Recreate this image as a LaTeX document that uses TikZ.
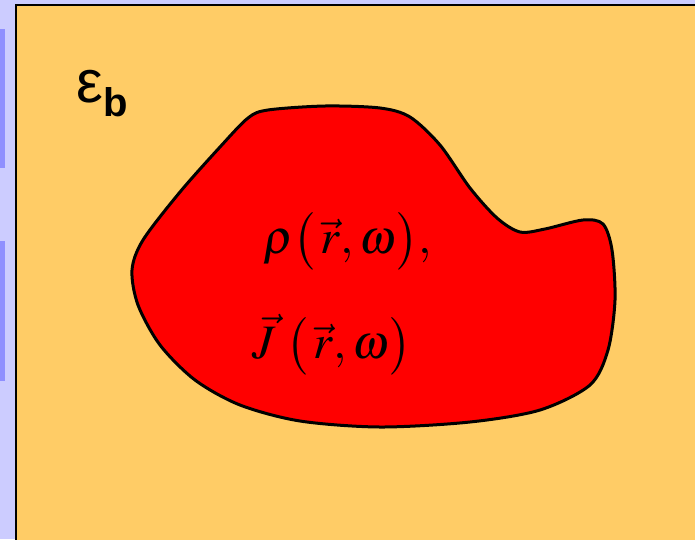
\documentclass[tikz,border=0pt]{standalone}
\usepackage{amsmath,amssymb}
\usepackage{mathptmx}
\usepackage{fontspec}
\setmainfont{Liberation Sans}
\usepackage{tikz}
\usetikzlibrary{calc}
\usepackage{xcolor}
\definecolor{lavande}{HTML}{CCCCFF}
\definecolor{barre}{HTML}{8F8FFF}
\definecolor{milieu}{HTML}{FFCC66}
\definecolor{source}{HTML}{FF0000}

\begin{document}
\begin{tikzpicture}[x=1pt,y=-1pt]
\useasboundingbox (0,0) rectangle (695,539);
\fill[lavande] (0,0) rectangle (695,539);
\foreach \ya/\yb in {29/168,241/381}
  {\fill[barre] (0,\ya) rectangle (5,\yb);}
\begin{scope}
\clip (0,0) rectangle (695,539);
\draw[line width=2pt,fill=milieu] (15.5,4.5) rectangle (720,560);
\end{scope}
% la region des sources
\draw[line width=3pt,fill=source] plot[smooth cycle,tension=0.5] coordinates {
  (268,110) (325,106) (380,108) (410,117) (440,145) (470,188) (497,218)
  (520,232) (545,229) (583,220) (603,224) (612,250) (615,300) (608,350)
  (590,385) (540,410) (470,422) (380,427) (300,421) (240,405) (195,380)
  (160,345) (138,305) (132,270) (143,240) (180,192) (220,147) (248,118)};
\node[inner sep=0pt,anchor=base west] (eps) at (76,102) {\fontsize{60}{60}\selectfont ε};
\node[inner sep=0pt,anchor=base west,yshift=-14pt] (sub) at (eps.base east) {\fontsize{40}{40}\selectfont\bfseries b};
\node[inner sep=0pt,anchor=base west] (rho) at (263,253) {\fontsize{48}{52}\selectfont $\rho\bigl(\,\vec r,\omega\bigr),$};
\node[inner sep=0pt,anchor=base west] (cur) at (252,358) {\fontsize{48}{52}\selectfont $\vec J\;\bigl(\,\vec r,\omega\bigr)$};
\end{tikzpicture}
\end{document}
